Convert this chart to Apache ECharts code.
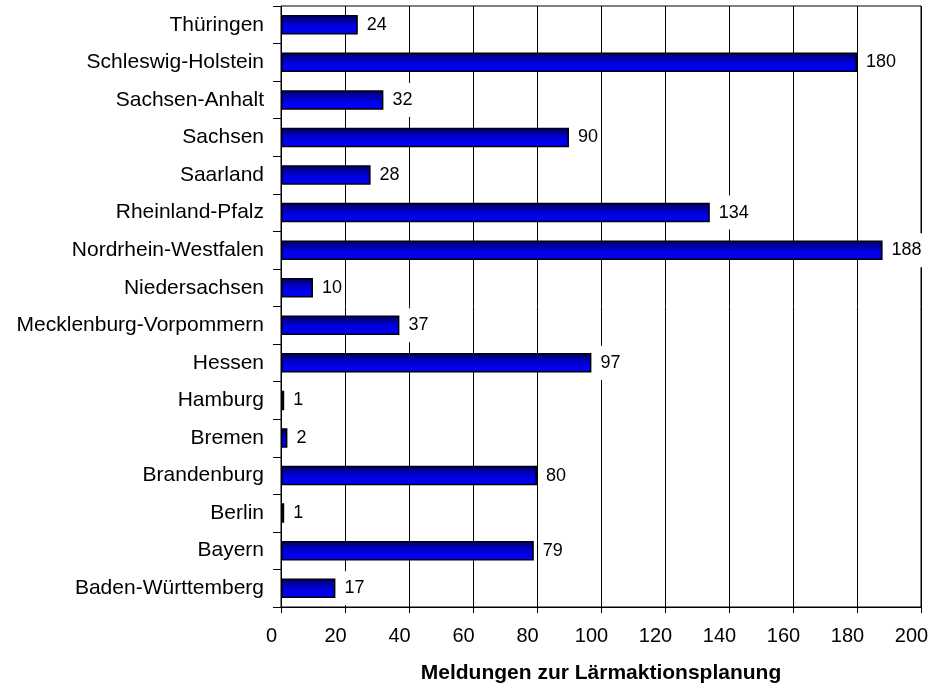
<!DOCTYPE html>
<html>
<head>
<meta charset="utf-8">
<script src="https://cdn.jsdelivr.net/npm/echarts@6/dist/echarts.min.js"></script>
<style>
  html, body { margin: 0; padding: 0; background: #fff; }
  #chart { width: 933px; height: 691px; }
</style>
</head>
<body>
<div id="chart"></div>
<script>
// Federal states, listed bottom to top
const states = [
  'Baden-Württemberg', 'Bayern', 'Berlin', 'Brandenburg', 'Bremen', 'Hamburg',
  'Hessen', 'Mecklenburg-Vorpommern', 'Niedersachsen', 'Nordrhein-Westfalen',
  'Rheinland-Pfalz', 'Saarland', 'Sachsen', 'Sachsen-Anhalt',
  'Schleswig-Holstein', 'Thüringen'
];
const reports = [17, 79, 1, 80, 2, 1, 97, 37, 10, 188, 134, 28, 90, 32, 180, 24];
const xTicks = [0, 20, 40, 60, 80, 100, 120, 140, 160, 180, 200];
const axisTitle = 'Meldungen zur Lärmaktionsplanung';

const font = 'Liberation Sans, Arial, sans-serif';
const chart = echarts.init(document.getElementById('chart'));
chart.setOption({
  backgroundColor: '#fff',
  animation: false,
  grid: { left: 281, right: 12, top: 6, bottom: 84, show: true, borderColor: '#000', borderWidth: 1 },
  xAxis: {
    type: 'value',
    min: xTicks[0],
    max: xTicks[xTicks.length - 1],
    interval: 20,
    name: axisTitle,
    nameLocation: 'middle',
    nameGap: 56,
    nameTextStyle: { fontFamily: font, fontSize: 21, fontWeight: 'bold', color: '#000' },
    axisLine: { show: true, lineStyle: { color: '#000', width: 1 } },
    axisTick: { show: true, length: 6, lineStyle: { color: '#000' } },
    axisLabel: { fontFamily: font, fontSize: 20, color: '#000', margin: 19, padding: [0, 19, 0, 0] },
    splitLine: { show: true, lineStyle: { color: '#000', width: 1 } }
  },
  yAxis: {
    type: 'category',
    data: states,
    axisLine: { show: true, lineStyle: { color: '#000', width: 1 } },
    axisTick: { show: true, length: 8, lineStyle: { color: '#000' } },
    axisLabel: { fontFamily: font, fontSize: 21, color: '#000', margin: 17 },
    splitLine: { show: false }
  },
  series: [{
    type: 'bar',
    data: reports,
    barCategoryGap: '48%',
    itemStyle: {
      color: new echarts.graphic.LinearGradient(0, 0, 0, 1, [
        { offset: 0, color: '#000060' },
        { offset: 0.55, color: '#0000e0' },
        { offset: 1, color: '#0000ff' }
      ]),
      borderColor: '#000',
      borderWidth: 1.5
    },
    label: {
      show: true,
      position: 'right',
      distance: 6,
      fontFamily: font,
      fontSize: 18,
      color: '#000',
      backgroundColor: '#fff',
      padding: [8, 3]
    }
  }]
});
</script>
</body>
</html>
